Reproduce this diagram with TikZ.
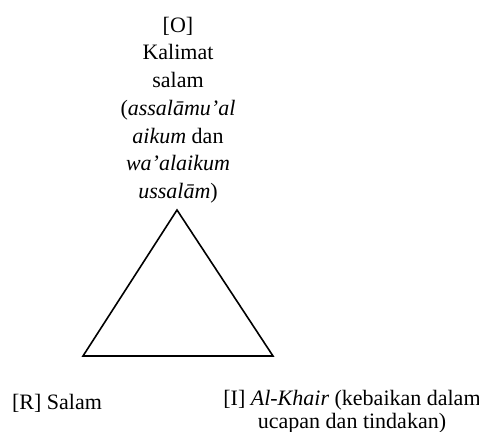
\documentclass[tikz,border=0pt]{standalone}
\usepackage{fontspec}
\setmainfont{Liberation Serif}
\begin{document}
\begin{tikzpicture}[x=0.75pt,y=-0.75pt]
\useasboundingbox (0,0) rectangle (479,432);
\tikzset{lbl/.style={font=\fontsize{16.5}{20.8}\selectfont, align=center, inner sep=0pt}}
\coordinate (top) at (177,210);
\coordinate (left) at (83,356);
\coordinate (right) at (273,356);
\draw[line width=1.2pt] (top) -- (left) -- (right) -- cycle;
\node[lbl] (O) at (178,110) {[O]\\Kalimat\\salam\\(\textit{assalāmu’al}\\\textit{aikum} dan\\\textit{wa’alaikum}\\\textit{ussalām})};
\node[lbl] (R) at (57,403) {[R] Salam};
\node[lbl, font=\fontsize{16.5}{17.25}\selectfont] (I) at (352,412) {[I] \textit{Al-Khair} (kebaikan dalam\\ucapan dan tindakan)};
\end{tikzpicture}
\end{document}
